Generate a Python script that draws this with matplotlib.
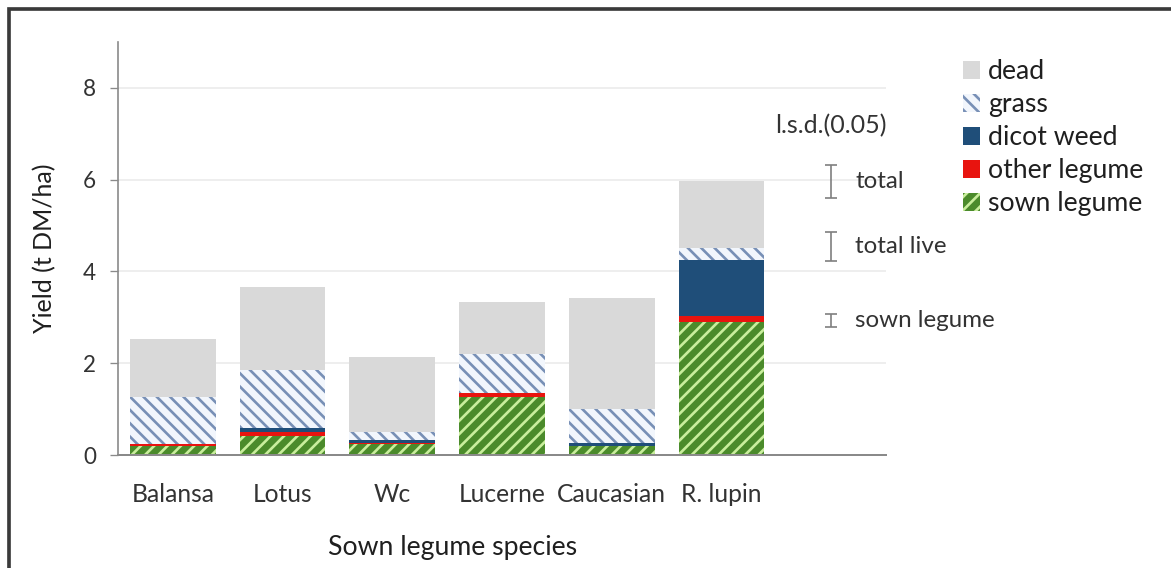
import matplotlib
matplotlib.use("Agg")
import matplotlib.pyplot as plt
from matplotlib.patches import Rectangle
import numpy as np

# Sown legume species and yield components (t DM/ha)
categories = ["Balansa", "Lotus", "Wc", "Lucerne", "Caucasian", "R. lupin"]
sown_legume = [0.20, 0.42, 0.25, 1.27, 0.20, 2.90]
other_legume = [0.04, 0.09, 0.02, 0.08, 0.00, 0.13]
dicot_weed = [0.00, 0.08, 0.06, 0.00, 0.06, 1.23]
grass = [1.02, 1.26, 0.17, 0.85, 0.74, 0.26]
dead = [1.26, 1.82, 1.63, 1.13, 2.43, 1.46]

# l.s.d.(0.05) bars: label, centre, full length
lsd_labels = ["total", "total live", "sown legume"]
lsd_centres = [5.97, 4.55, 2.93]
lsd_values = [0.72, 0.63, 0.30]

y_ticks = [0, 2, 4, 6, 8]

DPI = 120
W, H = 1171, 568
plt.rcParams["font.family"] = ["Lato", "DejaVu Sans"]
plt.rcParams["hatch.linewidth"] = 1.6

fig = plt.figure(figsize=(W / DPI, H / DPI), dpi=DPI)
ax = fig.add_axes([118 / W, 1 - 455 / H, (886 - 118) / W, (455 - 42) / H])

x = np.arange(len(categories))
width = 0.78

layers = [
    ("sown legume", sown_legume, dict(facecolor="#4b8b2b", edgecolor="#c9ee9c", hatch="///")),
    ("other legume", other_legume, dict(facecolor="#e8140f", edgecolor="#e8140f")),
    ("dicot weed", dicot_weed, dict(facecolor="#1f4e79", edgecolor="#1f4e79")),
    ("grass", grass, dict(facecolor="#f2f6fc", edgecolor="#7890b6", hatch="\\\\\\")),
    ("dead", dead, dict(facecolor="#d9d9d9", edgecolor="#d9d9d9")),
]

bottom = np.zeros(len(categories))
handles = {}
for name, vals, style in layers:
    vals = np.asarray(vals)
    bars = ax.bar(x, vals, width, bottom=bottom, linewidth=0, label=name, zorder=2, **style)
    handles[name] = bars
    bottom += vals

ax.set_xlim(-0.5, 6.5)
ax.set_ylim(0, 9)
ax.set_yticks(y_ticks)
ax.set_xticks(x)
ax.set_xticklabels(categories)

ax.yaxis.grid(True, color="#ebebeb", linewidth=1.0, zorder=0)
ax.set_axisbelow(True)
for s in ["top", "right"]:
    ax.spines[s].set_visible(False)
ax.spines["left"].set_color("#8a8a8a")
ax.spines["bottom"].set_color("#8a8a8a")
ax.spines["left"].set_linewidth(1.0)
ax.spines["bottom"].set_linewidth(1.2)

ax.tick_params(axis="y", direction="out", length=5, color="#8a8a8a",
               labelsize=13.5, labelcolor="#333333", pad=8)
ax.tick_params(axis="x", length=0, labelsize=14.8, labelcolor="#333333", pad=17)

# l.s.d. bars next to the last category
x_lsd = len(categories)
for lab, c, v in zip(lsd_labels, lsd_centres, lsd_values):
    ax.errorbar(x_lsd, c, yerr=v / 2, fmt="none", ecolor="#7f7f7f",
                elinewidth=1.0, capsize=3.5, capthick=1.0, clip_on=False, zorder=3)
    ax.text(x_lsd + 0.22, c, lab, ha="left", va="center", fontsize=14.5,
            color="#333333", clip_on=False)
ax.text(x_lsd - 0.51, 7.17, "l.s.d.(0.05)", ha="left", va="center", fontsize=15,
        color="#333333", clip_on=False)

fig.text(45 / W, 1 - 248 / H, "Yield (t DM/ha)", rotation=90, ha="center",
         va="center", fontsize=15, color="#1f1f1f")
fig.text(453 / W, 1 - 548 / H, "Sown legume species", ha="center", va="center",
         fontsize=16, color="#1f1f1f")

order = ["dead", "grass", "dicot weed", "other legume", "sown legume"]
leg = fig.legend([handles[n] for n in order], order, loc="upper left",
                 bbox_to_anchor=(963 / W, 1 - 59 / H), frameon=False,
                 fontsize=16, handlelength=0.65, handleheight=0.65,
                 handletextpad=0.28, labelspacing=0.30, borderpad=0,
                 borderaxespad=0)
for t in leg.get_texts():
    t.set_color("#1f1f1f")

# outer frame of the figure
fig.patches.append(Rectangle((9 / W, -0.05), 1.1, 1 - 9 / H + 0.05,
                             transform=fig.transFigure, fill=False,
                             edgecolor="#3a3a3a", linewidth=2.2))

fig.savefig("out.png", dpi=DPI)
